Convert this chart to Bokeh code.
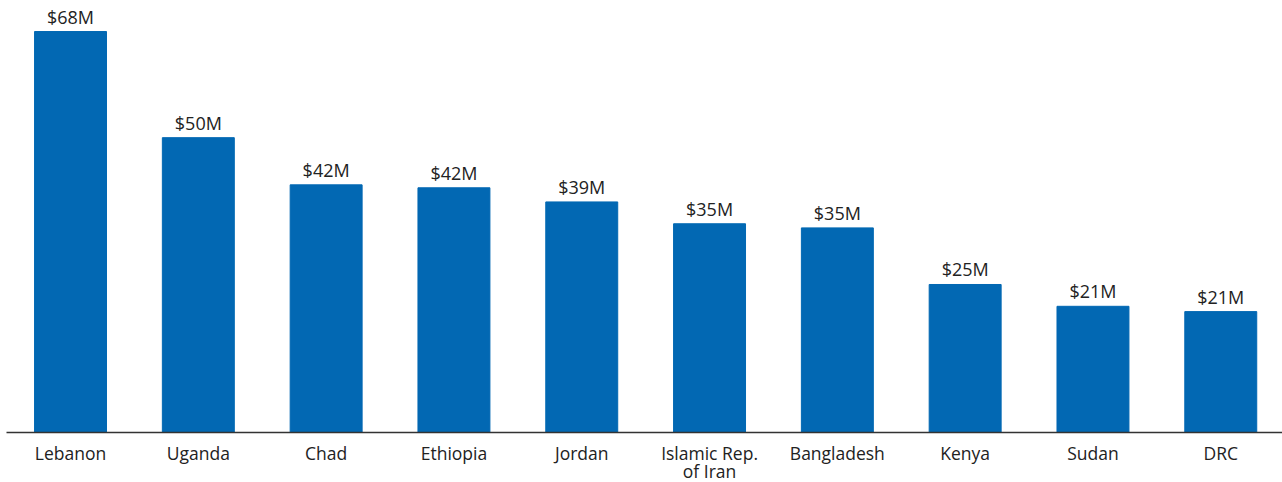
from bokeh.plotting import figure
from bokeh.models import ColumnDataSource, FixedTicker, Range1d
from bokeh.embed import file_html
from bokeh.resources import INLINE
from bokeh.core.properties import value

countries = ["Lebanon", "Uganda", "Chad", "Ethiopia", "Jordan",
             "Islamic Rep.\nof Iran", "Bangladesh", "Kenya", "Sudan", "DRC"]
amounts = [68.0, 50.0, 42.0, 41.5, 39.1, 35.4, 34.7, 25.1, 21.4, 20.5]
labels = ["$68M", "$50M", "$42M", "$42M", "$39M", "$35M", "$35M", "$25M", "$21M", "$21M"]

xs = list(range(len(countries)))
src = ColumnDataSource(dict(x=xs, top=amounts, label=labels))

p = figure(frame_width=1276, frame_height=432, output_backend="svg", toolbar_location=None,
           x_range=Range1d(-0.501, 9.483), y_range=Range1d(0, 73.26),
           min_border_top=0, min_border_left=6, min_border_right=0, min_border_bottom=0)
p.outline_line_color = None
p.grid.visible = False
p.yaxis.visible = False

p.vbar(x="x", top="top", bottom=0, width=0.563, color="#0268b3", source=src)
p.text(x="x", y="top", text="label", source=src, text_align="center",
       text_baseline="bottom", y_offset=-3, text_font=value("Open Sans"),
       text_font_size="18px", text_color="#222222")

ax = p.xaxis[0]
ax.ticker = FixedTicker(ticks=xs)
ax.major_label_overrides = {i: c for i, c in enumerate(countries)}
ax.major_tick_line_color = None
ax.minor_tick_line_color = None
ax.axis_line_color = "#333333"
ax.axis_line_width = 1.5
ax.major_label_standoff = 2
ax.major_label_text_font = "Open Sans"
ax.major_label_text_font_size = "17.5px"
ax.major_label_text_line_height = 0.75
ax.major_label_text_color = "#222222"

open("out.html", "w").write(file_html(p, INLINE))
